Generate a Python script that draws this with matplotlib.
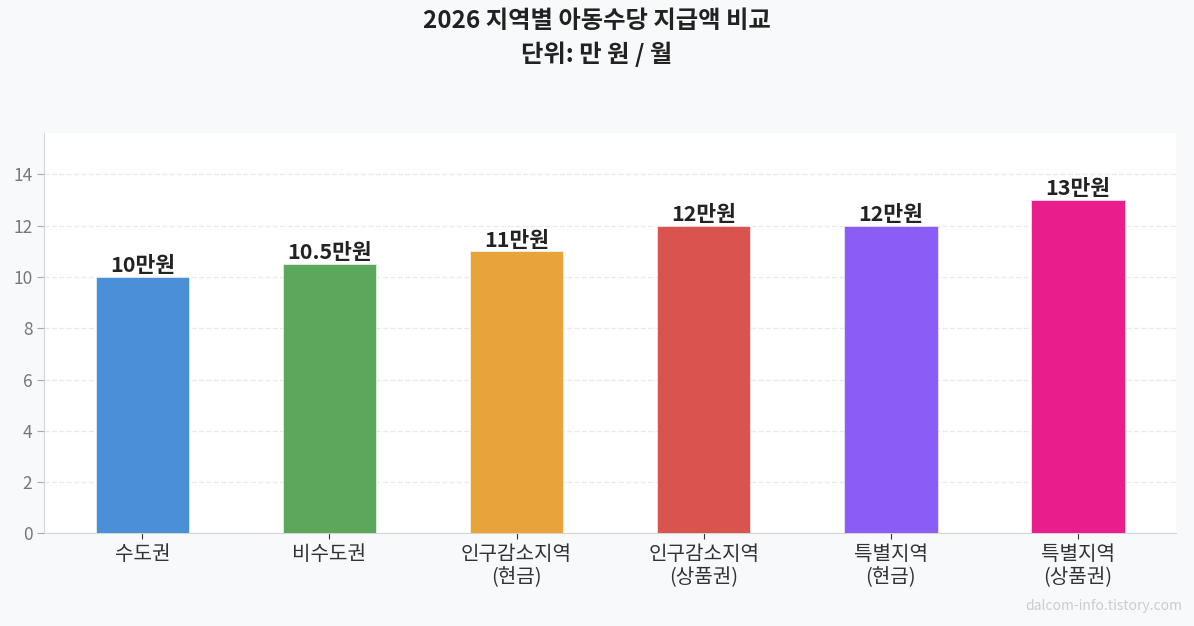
import matplotlib
matplotlib.use("Agg")
import matplotlib.pyplot as plt

plt.rcParams['font.family'] = ['Noto Sans CJK KR', 'DejaVu Sans']

categories = ['수도권', '비수도권', '인구감소지역\n(현금)', '인구감소지역\n(상품권)', '특별지역\n(현금)', '특별지역\n(상품권)']
values = [10, 10.5, 11, 12, 12, 13]
labels = ['10만원', '10.5만원', '11만원', '12만원', '12만원', '13만원']
colors = ['#4A90D9', '#5BA85C', '#E8A33A', '#D9534F', '#8B5CF6', '#E91E8C']

fig, ax = plt.subplots(figsize=(11.94, 6.26), dpi=100)
fig.patch.set_facecolor('#F8F9FB')
ax.set_facecolor('white')
fig.subplots_adjust(left=0.037, right=0.985, top=0.787, bottom=0.148)

x = range(len(categories))
bars = ax.bar(x, values, width=0.5, color=colors, edgecolor='white', linewidth=0.4, zorder=3)
for b, lab in zip(bars, labels):
    ax.text(b.get_x() + b.get_width() / 2, b.get_height() + 0.03, lab,
            ha='center', va='bottom', fontsize=15.5, fontweight='bold', color='#222222', zorder=4)

ax.set_xticks(list(x))
ax.set_xticklabels(categories, fontsize=14.5, color='#333333', linespacing=1.15)
ax.set_ylim(0, max(values) * 1.2)
ax.set_yticks([0, 2, 4, 6, 8, 10, 12, 14])
ax.tick_params(axis='y', labelsize=12.5, colors='#777777', length=5)
ax.tick_params(axis='x', length=4, color='#333333')
ax.tick_params(axis='y', color='#AAAAAA')
ax.yaxis.grid(True, linestyle='--', color='#EBEBEB', linewidth=1, zorder=0)
ax.set_axisbelow(True)
for s in ['top', 'right']:
    ax.spines[s].set_visible(False)
for s in ['left', 'bottom']:
    ax.spines[s].set_color('#D5D5D5')

fig.suptitle('2026 지역별 아동수당 지급액 비교\n단위: 만 원 / 월', fontsize=17.5, fontweight='bold',
             color='#222222', y=0.985, linespacing=1.4)
fig.text(0.99, 0.02, 'dalcom-info.tistory.com', ha='right', va='bottom', fontsize=10, color='#CCCCCC')

fig.savefig('out.png', dpi=100, facecolor=fig.get_facecolor())
